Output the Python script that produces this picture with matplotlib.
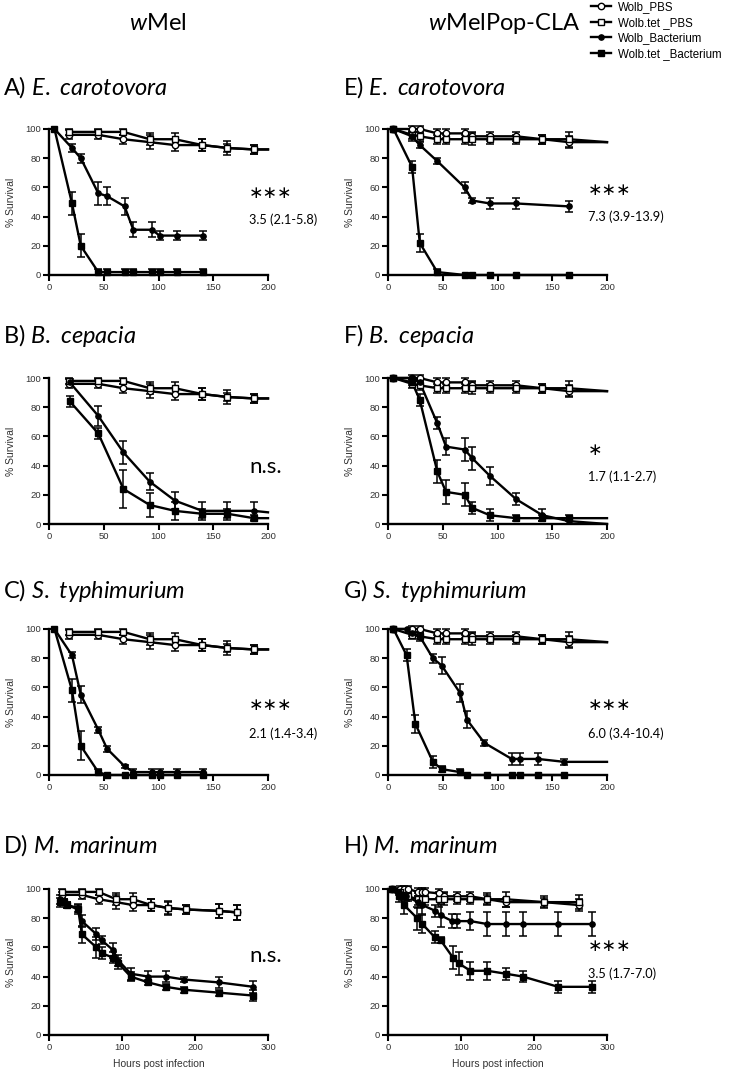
import matplotlib
matplotlib.use("Agg")
import matplotlib.pyplot as plt
from matplotlib.lines import Line2D

plt.rcParams['font.family'] = ['Liberation Sans', 'DejaVu Sans']
plt.rcParams['mathtext.fontset'] = 'custom'
plt.rcParams['mathtext.rm'] = 'Lato'
plt.rcParams['mathtext.it'] = 'Lato:italic'

# series order: Wolb_PBS, Wolb.tet_PBS, Wolb_Bacterium, Wolb.tet_Bacterium
# if an error list is one shorter than its times, the last point is only a line end

# wMel controls (panels A-C)
mel_pbs_t = [18, 45, 68, 92, 115, 140, 163, 187, 200]
mel_pbs_y = [96, 96, 93, 91, 89, 89, 87, 86, 86]
mel_pbs_e = [3, 3, 3, 5, 4, 4, 3, 3]
mel_tpbs_y = [98, 98, 98, 93, 93, 89, 87, 86, 86]
mel_tpbs_e = [2, 2, 2, 4, 4, 4, 5, 3]

# wMelPop controls (panels E-G)
pop_pbs_t = [5, 22, 29, 45, 53, 70, 77, 93, 117, 141, 165, 200]
pop_pbs_y = [100, 100, 100, 97, 97, 97, 95, 95, 95, 93, 91, 91]
pop_pbs_e = [0, 2, 2, 3, 3, 3, 3, 3, 3, 3, 4]
pop_tpbs_y = [100, 96, 95, 93, 93, 93, 93, 93, 93, 93, 93, 91]
pop_tpbs_e = [0, 3, 3, 3, 3, 3, 4, 3, 3, 3, 5]

# A) E. carotovora, wMel
a_t = [5, 21, 29, 45, 53, 69, 77, 94, 101, 117, 141]
a_wb_y = [100, 87, 80, 56, 54, 47, 31, 31, 27, 27, 27]
a_wb_e = [0, 3, 3, 8, 6, 6, 5, 5, 3, 3, 3]
a_tb_y = [100, 49, 20, 2, 2, 2, 2, 2, 2, 2, 2]
a_tb_e = [0, 8, 8, 2, 2, 2, 2, 2, 2, 2, 2]

# B) B. cepacia, wMel
b_t = [19, 45, 68, 92, 115, 140, 163, 187, 200]
b_wb_y = [97, 74, 49, 29, 16, 9, 9, 9, 8]
b_wb_e = [2, 7, 8, 6, 6, 6, 6, 6]
b_tb_y = [84, 62, 24, 13, 9, 7, 7, 4, 4]
b_tb_e = [4, 4, 13, 8, 6, 3, 3, 2]

# C) S. typhimurium, wMel
c_t = [5, 21, 29, 45, 53, 69, 77, 94, 101, 117, 141]
c_wb_y = [100, 82, 55, 31, 18, 6, 2, 2, 2, 2, 2]
c_wb_e = [0, 2, 6, 2, 2, 1, 2, 2, 2, 2, 2]
c_tb_y = [100, 58, 20, 2, 0, 0, 0, 0, 0, 0, 0]
c_tb_e = [0, 8, 10, 2, 0, 0, 0, 0, 0, 0, 0]

# D) M. marinum, wMel
d_pbs_t = [18, 45, 68, 92, 115, 140, 163, 187, 233, 257]
d_pbs_y = [96, 96, 93, 91, 89, 89, 87, 86, 85, 84]
d_pbs_e = [2, 3, 3, 5, 4, 4, 4, 3, 5, 5]
d_tpbs_y = [98, 98, 98, 93, 93, 89, 87, 86, 85, 84]
d_tpbs_e = [2, 2, 2, 4, 4, 4, 5, 3, 5, 5]
d_t = [15, 20, 25, 40, 45, 65, 72, 88, 95, 112, 136, 160, 185, 233, 280]
d_wb_y = [93, 91, 89, 87, 78, 69, 65, 58, 51, 42, 40, 40, 38, 36, 33]
d_wb_e = [3, 2, 2, 3, 4, 4, 3, 5, 4, 4, 4, 4, 2, 4, 4]
d_tb_y = [91, 91, 89, 86, 69, 60, 56, 53, 49, 40, 36, 33, 31, 29, 27]
d_tb_e = [3, 2, 2, 3, 6, 7, 4, 4, 4, 3, 2, 2, 2, 2, 4]

# E) E. carotovora, wMelPop-CLA
e_t = [5, 22, 29, 45, 70, 77, 93, 117, 165]
e_wb_y = [100, 95, 89, 78, 60, 51, 49, 49, 47]
e_wb_e = [0, 3, 2, 2, 4, 2, 4, 4, 4]
e_tb_y = [100, 74, 22, 2, 0, 0, 0, 0, 0]
e_tb_e = [0, 4, 6, 2, 0, 0, 0, 0, 0]

# F) B. cepacia, wMelPop-CLA
f_t = [5, 22, 29, 45, 53, 70, 77, 93, 117, 141, 165, 200]
f_wb_y = [100, 100, 97, 69, 53, 51, 45, 33, 17, 6, 2, 0]
f_wb_e = [0, 0, 2, 4, 6, 8, 8, 6, 4, 4, 2]
f_tb_y = [100, 97, 85, 36, 22, 20, 11, 6, 4, 4, 4, 4]
f_tb_e = [0, 2, 4, 8, 8, 8, 4, 4, 2, 2, 2]

# G) S. typhimurium, wMelPop-CLA
g_wb_t = [5, 17, 22, 29, 41, 49, 66, 72, 88, 113, 121, 137, 161, 200]
g_wb_y = [100, 100, 97, 95, 80, 75, 56, 38, 22, 11, 11, 11, 9, 9]
g_wb_e = [0, 0, 2, 2, 3, 6, 6, 6, 2, 4, 4, 4, 2]
g_tb_t = [5, 17, 25, 41, 49, 66, 72, 90, 113, 121, 137, 161]
g_tb_y = [100, 82, 35, 9, 4, 2, 0, 0, 0, 0, 0, 0]
g_tb_e = [0, 4, 6, 4, 2, 2, 0, 0, 0, 0, 0, 0]

# H) M. marinum, wMelPop-CLA
h_pbs_t = [5, 17, 22, 27, 41, 47, 50, 70, 77, 94, 113, 136, 161, 214, 262]
h_pbs_y = [100, 100, 100, 100, 98, 98, 98, 97, 95, 95, 95, 93, 91, 91, 89]
h_pbs_e = [0, 2, 2, 2, 3, 3, 3, 3, 3, 3, 3, 4, 3, 3, 4]
h_tpbs_y = [100, 98, 96, 95, 93, 93, 93, 93, 93, 93, 93, 93, 93, 91, 91]
h_tpbs_e = [0, 3, 3, 3, 4, 4, 4, 5, 4, 3, 3, 3, 5, 4, 5]
h_wb_t = [5, 15, 20, 25, 41, 47, 65, 72, 88, 95, 113, 136, 161, 185, 233, 280]
h_wb_y = [100, 98, 96, 95, 91, 89, 85, 82, 78, 78, 78, 76, 76, 76, 76, 76]
h_wb_e = [0, 2, 3, 3, 4, 6, 4, 8, 5, 5, 6, 8, 8, 8, 8, 8]
h_tb_t = [5, 15, 22, 40, 47, 64, 72, 89, 97, 113, 136, 161, 185, 233, 280]
h_tb_y = [100, 95, 89, 80, 76, 67, 65, 53, 49, 44, 44, 42, 40, 33, 33]
h_tb_e = [0, 4, 6, 8, 6, 4, 2, 8, 8, 6, 6, 4, 4, 4, 4]

labels = ['Wolb_PBS', 'Wolb.tet _PBS', 'Wolb_Bacterium', 'Wolb.tet _Bacterium']
styles = [dict(marker='o', mfc='white', ms=4.6),
          dict(marker='s', mfc='white', ms=4.6),
          dict(marker='o', mfc='black', ms=3.8),
          dict(marker='s', mfc='black', ms=4.2)]

panels = [
    ('A)', 'E. carotovora', 200, [(mel_pbs_t, mel_pbs_y, mel_pbs_e), (mel_pbs_t, mel_tpbs_y, mel_tpbs_e),
                                  (a_t, a_wb_y, a_wb_e), (a_t, a_tb_y, a_tb_e)], '***', '3.5 (2.1-5.8)'),
    ('B)', 'B. cepacia', 200, [(mel_pbs_t, mel_pbs_y, mel_pbs_e), (mel_pbs_t, mel_tpbs_y, mel_tpbs_e),
                               (b_t, b_wb_y, b_wb_e), (b_t, b_tb_y, b_tb_e)], 'n.s.', None),
    ('C)', 'S. typhimurium', 200, [(mel_pbs_t, mel_pbs_y, mel_pbs_e), (mel_pbs_t, mel_tpbs_y, mel_tpbs_e),
                                   (c_t, c_wb_y, c_wb_e), (c_t, c_tb_y, c_tb_e)], '***', '2.1 (1.4-3.4)'),
    ('D)', 'M. marinum', 300, [(d_pbs_t, d_pbs_y, d_pbs_e), (d_pbs_t, d_tpbs_y, d_tpbs_e),
                               (d_t, d_wb_y, d_wb_e), (d_t, d_tb_y, d_tb_e)], 'n.s.', None),
    ('E)', 'E. carotovora', 200, [(pop_pbs_t, pop_pbs_y, pop_pbs_e), (pop_pbs_t, pop_tpbs_y, pop_tpbs_e),
                                  (e_t, e_wb_y, e_wb_e), (e_t, e_tb_y, e_tb_e)], '***', '7.3 (3.9-13.9)'),
    ('F)', 'B. cepacia', 200, [(pop_pbs_t, pop_pbs_y, pop_pbs_e), (pop_pbs_t, pop_tpbs_y, pop_tpbs_e),
                               (f_t, f_wb_y, f_wb_e), (f_t, f_tb_y, f_tb_e)], '*', '1.7 (1.1-2.7)'),
    ('G)', 'S. typhimurium', 200, [(pop_pbs_t, pop_pbs_y, pop_pbs_e), (pop_pbs_t, pop_tpbs_y, pop_tpbs_e),
                                   (g_wb_t, g_wb_y, g_wb_e), (g_tb_t, g_tb_y, g_tb_e)], '***', '6.0 (3.4-10.4)'),
    ('H)', 'M. marinum', 300, [(h_pbs_t, h_pbs_y, h_pbs_e), (h_pbs_t, h_tpbs_y, h_tpbs_e),
                               (h_wb_t, h_wb_y, h_wb_e), (h_tb_t, h_tb_y, h_tb_e)], '***', '3.5 (1.7-7.0)'),
]

W, H = 730, 1078
fig = plt.figure(figsize=(W / 100, H / 100), dpi=100)

col_left = [49, 388]
row_top = [129, 378, 629, 889]
title_base = [95, 343, 598, 853]
# annotation positions in axes fraction: (star y, ratio text y)
annot_pos = [(0.56, 0.38), (0.39, None), (0.48, 0.285), (0.54, None),
             (0.58, 0.40), (0.51, 0.325), (0.48, 0.285), (0.61, 0.42)]

for i, (tag, name, xmax, series, star, ratio) in enumerate(panels):
    col, row = divmod(i, 4)
    left, top = col_left[col], row_top[row]
    ax = fig.add_axes([left / W, 1 - (top + 146) / H, 219 / W, 146 / H])
    for (t, y, e), st in zip(series, styles):
        ax.plot(t, y, color='k', lw=1.7, clip_on=False, zorder=3)
        n = len(e)
        ax.errorbar(t[:n], y[:n], yerr=e, fmt='none', ecolor='k', elinewidth=1.1,
                    capsize=2.6, capthick=1.1, clip_on=False, zorder=3)
        ax.plot(t[:n], y[:n], ls='none', color='k', mec='k', mew=1.0,
                clip_on=False, zorder=4, **st)
    ax.set_xlim(0, xmax)
    ax.set_ylim(0, 100)
    ax.set_xticks(range(0, xmax + 1, 50 if xmax == 200 else 100))
    ax.set_yticks(range(0, 101, 20))
    for s in ['top', 'right']:
        ax.spines[s].set_visible(False)
    for s in ['left', 'bottom']:
        ax.spines[s].set_linewidth(1.7)
    ax.tick_params(direction='out', length=4, width=1.5, labelsize=6.8,
                   labelcolor='#333333', pad=1.5)
    ax.set_ylabel('% Survival', fontsize=7.5, color='#333333')
    ax.yaxis.set_label_coords(-0.15, 0.5)
    if row == 3:
        ax.set_xlabel('Hours post infection', fontsize=7.5, color='#333333', labelpad=5)

    sy, ry = annot_pos[i]
    if star == 'n.s.':
        ax.text(0.915, sy, star, transform=ax.transAxes, fontsize=16,
                family='Lato', va='center', ha='left')
    else:
        ax.text(0.91, sy, star.replace('*', '\u2217'),
                transform=ax.transAxes, fontsize=12.5, family='DejaVu Sans',
                va='center', ha='left')
        ax.text(0.915, ry, ratio, transform=ax.transAxes, fontsize=9.2,
                family='Lato', va='center', ha='left')

    tx = 3 if col == 0 else 343
    fig.text(tx / W, 1 - title_base[row] / H, tag + ' $\\mathit{' + name.replace(' ', '\\ ') + '}$',
             fontsize=17, family='Lato', va='baseline', ha='left')

fig.text(129 / W, 1 - 30 / H, '$\\mathit{w}$Mel', fontsize=17, family='Lato',
         va='baseline', ha='left')
fig.text(428 / W, 1 - 30 / H, '$\\mathit{w}$MelPop-CLA', fontsize=17, family='Lato',
         va='baseline', ha='left')

handles = [Line2D([], [], color='k', lw=1.7, mec='k', mew=1.0, **st) for st in styles]
fig.legend(handles, labels, loc='upper left', bbox_to_anchor=(590 / W, 1.0),
           frameon=False, fontsize=8.3, handlelength=1.75, handletextpad=0.6,
           labelspacing=0.32, borderpad=0.1, borderaxespad=0)

fig.savefig('out.png', dpi=100)
